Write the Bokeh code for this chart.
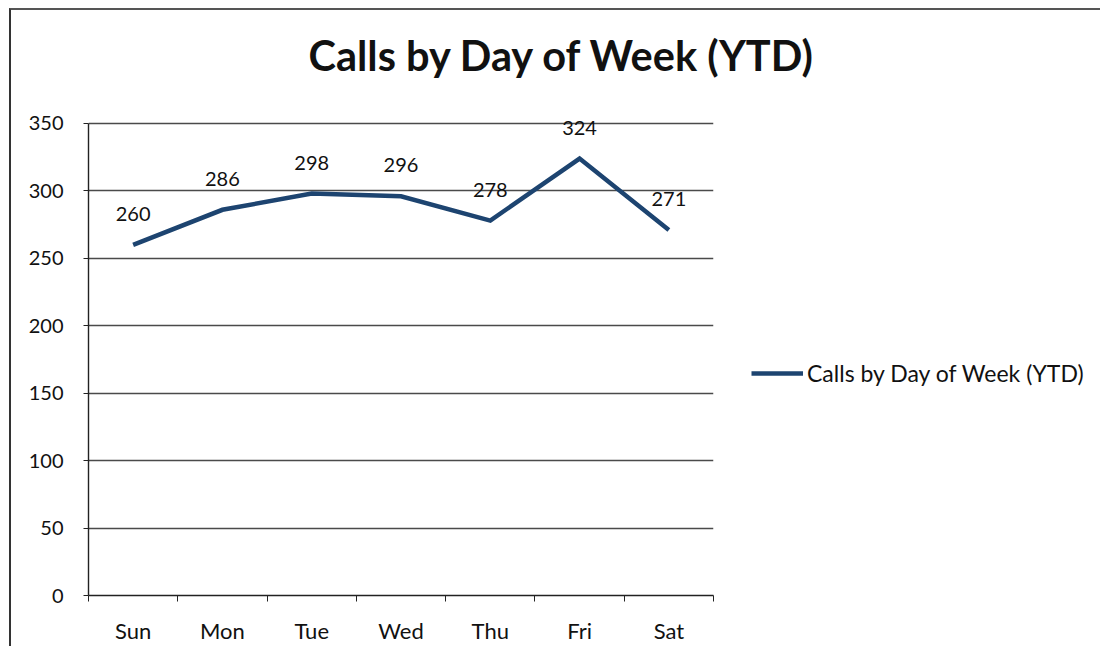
from bokeh.plotting import figure
from bokeh.models import (Range1d, FixedTicker, ColumnDataSource, Legend, LegendItem,
                          LabelSet)
from bokeh.core.properties import value
from bokeh.embed import file_html
from bokeh.resources import INLINE

days = ["Sun", "Mon", "Tue", "Wed", "Thu", "Fri", "Sat"]
calls = [260, 286, 298, 296, 278, 324, 271]
y_ticks = [0, 50, 100, 150, 200, 250, 300, 350]
series_name = "Calls by Day of Week (YTD)"
chart_title = "Calls by Day of Week (YTD)"

FONT = "Lato"
Y_MAX = 350     # axis end
Y_ROOM = 370    # extra headroom so the top data label is not clipped

xs = [i + 0.5 for i in range(len(days))]
src = ColumnDataSource(dict(x=xs, y=calls, label=[str(v) for v in calls]))

p = figure(frame_width=625, frame_height=round(472 * Y_ROOM / Y_MAX),
           x_range=Range1d(0, len(days)), y_range=Range1d(0, Y_ROOM),
           output_backend="svg", toolbar_location=None,
           min_border_left=77, min_border_top=76, min_border_bottom=40,
           min_border_right=0, title=chart_title)
p.styles = {"border-left": "2px solid #333", "border-top": "2px solid #555",
            "margin-left": "9px", "margin-top": "8px"}

p.title.text_font = FONT
p.title.text_font_size = "41.5px"
p.title.text_font_style = "bold"
p.title.text_color = "#111111"
p.title.align = "left"
p.title.offset = 220
p.title.standoff = 34

p.outline_line_color = None
p.background_fill_color = "white"
p.border_fill_color = "white"

# grid
p.xgrid.grid_line_color = None
p.ygrid.ticker = FixedTicker(ticks=y_ticks)
p.ygrid.grid_line_color = "#4a4a4a"
p.ygrid.grid_line_width = 1.4

# y axis
p.yaxis.ticker = FixedTicker(ticks=y_ticks)
p.yaxis.bounds = (0, Y_MAX)
p.yaxis.axis_line_color = "#222222"
p.yaxis.axis_line_width = 1.4
p.yaxis.major_tick_line_color = "#222222"
p.yaxis.major_tick_out = 5
p.yaxis.major_tick_in = 0
p.yaxis.minor_tick_line_color = None
p.yaxis.major_label_text_font = FONT
p.yaxis.major_label_text_font_size = "20px"
p.yaxis.major_label_text_color = "#111111"
p.yaxis.major_label_standoff = 20

# x axis: labels at category centres, ticks at boundaries
p.xaxis.ticker = FixedTicker(ticks=xs, minor_ticks=list(range(len(days) + 1)))
p.xaxis.major_label_overrides = {x: d for x, d in zip(xs, days)}
p.xaxis.axis_line_color = "#222222"
p.xaxis.axis_line_width = 1.4
p.xaxis.major_tick_line_color = None
p.xaxis.major_tick_out = 0
p.xaxis.major_tick_in = 0
p.xaxis.minor_tick_line_color = "#222222"
p.xaxis.minor_tick_out = 6
p.xaxis.minor_tick_in = 0
p.xaxis.major_label_text_font = FONT
p.xaxis.major_label_text_font_size = "22px"
p.xaxis.major_label_text_color = "#111111"
p.xaxis.major_label_standoff = 15

line = p.line("x", "y", source=src, line_color="#1d4470", line_width=4.5,
              line_join="miter")
labels = LabelSet(x="x", y="y", text="label", source=src,
                  text_font=value(FONT), text_font_size=value("20px"),
                  text_color="#111111",
                  text_align="center", text_baseline="middle", y_offset=31)
p.add_layout(labels)

legend = Legend(items=[LegendItem(label=series_name, renderers=[line])],
                location=(38, 208), orientation="vertical",
                glyph_width=52, glyph_height=20, label_standoff=4,
                padding=0, margin=0, border_line_color=None,
                background_fill_alpha=0,
                label_text_font=FONT, label_text_font_size="23px",
                label_text_color="#111111")
p.add_layout(legend, "right")

open("out.html", "w").write(file_html(p, INLINE))
